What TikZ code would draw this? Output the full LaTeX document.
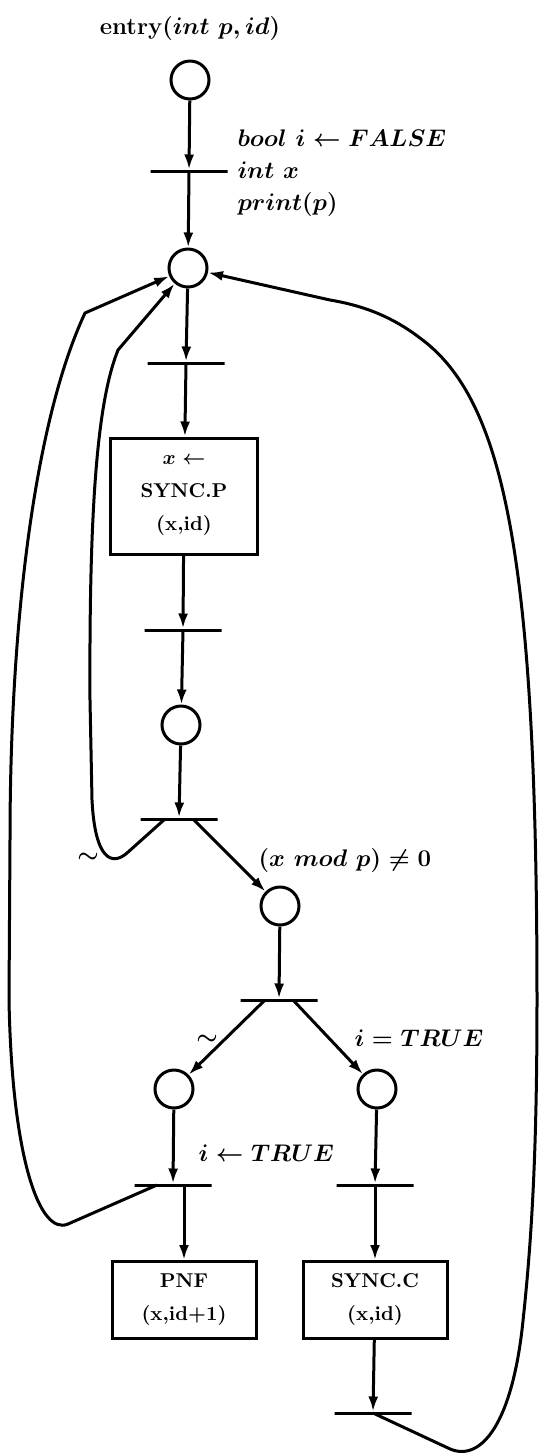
\documentclass[tikz,border=0pt]{standalone}
\usepackage{amsmath,amssymb}
\usetikzlibrary{arrows.meta}

\begin{document}
\begin{tikzpicture}[x=0.5pt, y=-0.5pt, line width=1.5pt,
    place/.style={circle, draw, minimum size=19pt, inner sep=0pt},
    trans/.style={draw, minimum width=38.5pt, minimum height=0pt, inner sep=0pt},
    task/.style={draw, align=center, font=\bfseries\boldmath, inner sep=0pt},
    flow/.style={-{Latex[length=7.5pt,width=5pt]}},
    lbl/.style={font=\large\bfseries\boldmath, inner sep=0pt}]
    \useasboundingbox (0,0) rectangle (538,1453);

    % Ingresso
    \node[lbl] (entry) at (190,28) {entry$(int\ p, id)$};
    \node[place] (p0) at (190,80) {};
    \node[trans] (t0) at (189,171) {};
    \node[lbl, anchor=west, align=left] (init) at (236,173)
        {$bool\ i \leftarrow FALSE$\\[2pt] $int\ x$\\[2pt] $print(p)$};

    % Ciclo principale
    \node[place] (p1) at (188,268) {};
    \node[trans] (t1) at (186,363) {};
    \node[task, minimum width=73.5pt, minimum height=58pt] (syncp) at (184,496)
        {$x \leftarrow$\\[4.5pt] SYNC.P\\[4.5pt] (x,id)};
    \node[trans] (t2) at (183,630) {};
    \node[place] (p2) at (181,725) {};
    \node[trans] (t3) at (179,819) {};

    % Test su x
    \node[lbl] (neg1) at (88,858) {$\sim$};
    \node[lbl, anchor=west] (cond) at (257,860) {$(x\ mod\ p) \neq 0$};
    \node[place] (p3) at (280,906) {};
    \node[trans] (t4) at (279,1000) {};

    % Rami finali
    \node[lbl] (neg2) at (207,1040) {$\sim$};
    \node[lbl, anchor=west] (itrue) at (353,1038) {$i = TRUE$};
    \node[place] (p4) at (174,1089) {};
    \node[place] (p5) at (377,1089) {};
    \node[lbl, anchor=west] (iset) at (197,1153) {$i \leftarrow TRUE$};
    \node[trans] (t5) at (173,1185) {};
    \node[trans] (t6) at (375,1185) {};
    \node[task, minimum width=72pt, minimum height=38.5pt] (pnf) at (184,1300)
        {PNF\\[4.5pt] (x,id+1)};
    \node[task, minimum width=72pt, minimum height=38.5pt] (syncc) at (375,1300)
        {SYNC.C\\[4.5pt] (x,id)};
    \node[trans] (t7) at (373,1413) {};

    % Archi
    \draw[flow] (p0) -- (t0);
    \draw[flow] (t0) -- (p1);
    \draw[flow] (p1) -- (t1);
    \draw[flow] (t1) -- (syncp);
    \draw[flow] (syncp) -- (t2);
    \draw[flow] (t2) -- (p2);
    \draw[flow] (p2) -- (t3);
    \draw[flow] ([xshift=7pt]t3.center) -- (p3);
    \draw[flow] (p3) -- (t4);
    \draw[flow] ([xshift=-7pt]t4.center) -- (p4);
    \draw[flow] ([xshift=7pt]t4.center) -- (p5);
    \draw[flow] (p4) -- (t5);
    \draw[flow] (p5) -- (t6);
    \draw[flow] (t5 -| pnf) -- (pnf);
    \draw[flow] (t6) -- (syncc);
    \draw[flow] (syncc) -- (t7);

    % Ritorni a p1
    \draw[flow] ([xshift=-7pt]t3.center) -- (127,853) .. controls (112,866) and (95,860) .. (92,800)
        -- (90,700) .. controls (89,500) and (98,400) .. (118,350) -- (p1);
    \draw[flow] ([xshift=-8pt]t5.center) -- (68,1224) .. controls (40,1236) and (12,1160) .. (9,1000)
        -- (10,840) .. controls (10,620) and (35,420) .. (85,313) -- (p1);
    \draw[flow] (t7.center) -- (448,1448) .. controls (478,1463) and (510,1430) .. (522,1330)
        .. controls (532,1240) and (537,1150) .. (537,1000)
        .. controls (537,560) and (505,400) .. (420,338)
        .. controls (390,315) and (360,305) .. (330,300) -- (p1);
\end{tikzpicture}
\end{document}
